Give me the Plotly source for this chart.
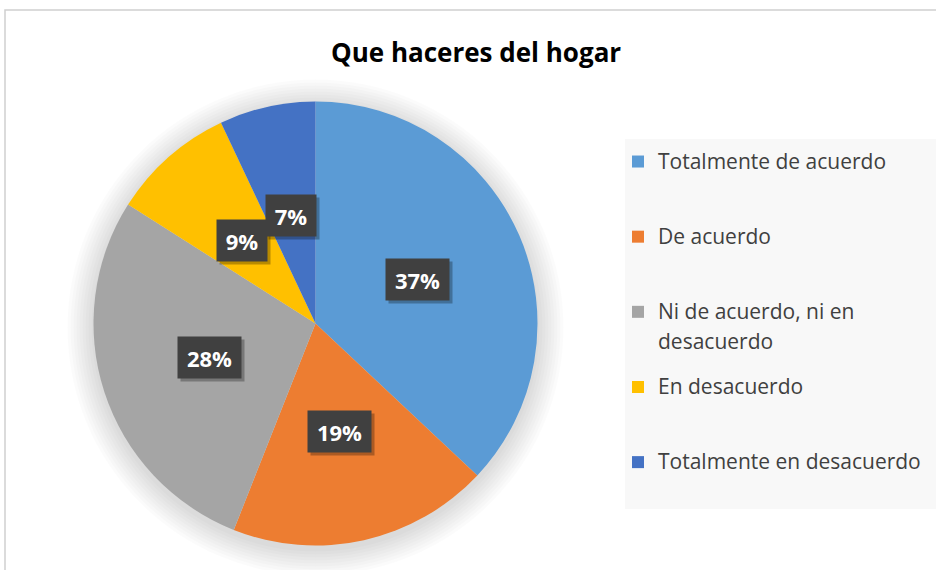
import math
import plotly.graph_objects as go

# ---- data ----
categories = [
    "Totalmente de acuerdo",
    "De acuerdo",
    "Ni de acuerdo, ni en<br>desacuerdo",
    "En desacuerdo",
    "Totalmente en desacuerdo",
]
values = [37, 19, 28, 9, 7]
colors = ["#5B9BD5", "#ED7D31", "#A5A5A5", "#FFC000", "#4472C4"]
title_text = "Que haceres del hogar"

W, H = 936, 570
CX, CY, R = 315.5, 323.5, 222.0  # pie centre / radius in px

def px(x):
    return x / W

def py(y):
    return (H - y) / H

# legend labels padded so each entry has equal height (like Excel)
legend_labels = []
for c in categories:
    lines = c.split("<br>")
    parts = []
    for i, l in enumerate(lines):
        style = "font-size:21px" if i == 0 else "font-size:21px;baseline-shift:-6px"
        parts.append(f'<span style="{style}">{l}</span>')
    legend_labels.append("<br>".join(parts) + "<br> " * (3 - len(lines)))

fig = go.Figure()
fig.add_trace(go.Pie(
    labels=legend_labels,
    values=values,
    sort=False,
    direction="clockwise",
    rotation=0,
    marker=dict(colors=colors, line=dict(width=0)),
    textinfo="none",
    hoverinfo="percent",
    domain=dict(x=[px(CX - R), px(CX + R)], y=[py(CY + R), py(CY - R)]),
    showlegend=True,
))

shapes = []
# soft shadow around pie
for k in range(26, 0, -3):
    shapes.append(dict(
        type="circle", xref="paper", yref="paper", layer="below",
        x0=px(CX - R - k), x1=px(CX + R + k),
        y0=py(CY + 4 + R + k), y1=py(CY + 4 - R - k),
        fillcolor="rgba(0,0,0,0.014)", line=dict(width=0),
    ))
# legend background
shapes.append(dict(
    type="rect", xref="paper", yref="paper", layer="below",
    x0=px(625), x1=px(960), y0=py(509), y1=py(139),
    fillcolor="#F8F8F8", line=dict(width=0),
))
# chart border
shapes.append(dict(
    type="rect", xref="paper", yref="paper", layer="below",
    x0=px(5), x1=px(960), y0=py(600), y1=py(10),
    fillcolor="rgba(0,0,0,0)", line=dict(color="#D0D0D0", width=1.5),
))

annotations = []
total = sum(values)
cum = 0.0
for v in values:
    mid = (cum + v / 2) / total * 2 * math.pi
    cum += v
    r = 0.5 * R
    x = CX + r * math.sin(mid)
    y = CY - r * math.cos(mid)
    label = f"{round(100 * v / total)}%"
    bw = 24 + 13 * len(label)
    # drop shadow
    annotations.append(dict(
        x=px(x + 3), y=py(y + 3), xref="paper", yref="paper",
        xanchor="center", yanchor="middle",
        text=" ", showarrow=False, width=bw, height=41,
        bgcolor="rgba(0,0,0,0.28)", borderpad=0,
    ))
    annotations.append(dict(
        x=px(x), y=py(y), xref="paper", yref="paper",
        xanchor="center", yanchor="middle",
        text=f"<b>{label}</b>", showarrow=False, width=bw, height=41,
        font=dict(family="Open Sans", size=22, color="white"),
        bgcolor="#404040", borderpad=0,
    ))

annotations.append(dict(
    x=px(476), y=py(52), xref="paper", yref="paper",
    xanchor="center", yanchor="middle",
    text=f"<b>{title_text}</b>", showarrow=False,
    font=dict(family="Open Sans", size=26, color="black"),
))

fig.update_layout(
    width=W, height=H,
    margin=dict(l=0, r=0, t=0, b=0),
    paper_bgcolor="white",
    plot_bgcolor="white",
    shapes=shapes,
    annotations=annotations,
    legend=dict(
        x=px(618), y=py(143), xanchor="left", yanchor="top",
        bgcolor="rgba(0,0,0,0)",
        font=dict(family="Open Sans", size=18.5, color="#404040"),
        valign="top",
        tracegroupgap=0,
    ),
)

fig.write_html("out.html", config={"displayModeBar": False})

# remove the browser's default page margin so the figure sits at (0,0)
with open("out.html", encoding="utf-8") as f:
    html = f.read()
html = html.replace("<body>", '<body style="margin:0;overflow:hidden">', 1)
with open("out.html", "w", encoding="utf-8") as f:
    f.write(html)
